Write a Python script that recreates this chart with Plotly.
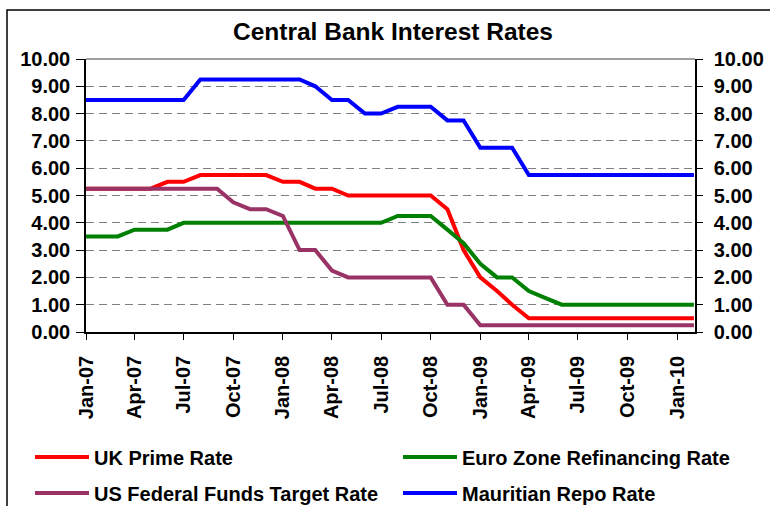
import plotly.graph_objects as go

months = [f"{y}-{m:02d}-01" for y in (2007, 2008, 2009) for m in range(1, 13)] + ["2010-01-01", "2010-02-01"]

uk_prime = [5.25, 5.25, 5.25, 5.25, 5.25, 5.5, 5.5, 5.75, 5.75, 5.75, 5.75, 5.75,
            5.5, 5.5, 5.25, 5.25, 5.0, 5.0, 5.0, 5.0, 5.0, 5.0, 4.5, 3.0,
            2.0, 1.5, 1.0, 0.5, 0.5, 0.5, 0.5, 0.5, 0.5, 0.5, 0.5, 0.5,
            0.5, 0.5]
euro_refi = [3.5, 3.5, 3.5, 3.75, 3.75, 3.75, 4.0, 4.0, 4.0, 4.0, 4.0, 4.0,
             4.0, 4.0, 4.0, 4.0, 4.0, 4.0, 4.0, 4.25, 4.25, 4.25, 3.75, 3.25,
             2.5, 2.0, 2.0, 1.5, 1.25, 1.0, 1.0, 1.0, 1.0, 1.0, 1.0, 1.0,
             1.0, 1.0]
us_fed = [5.25, 5.25, 5.25, 5.25, 5.25, 5.25, 5.25, 5.25, 5.25, 4.75, 4.5, 4.5,
          4.25, 3.0, 3.0, 2.25, 2.0, 2.0, 2.0, 2.0, 2.0, 2.0, 1.0, 1.0,
          0.25, 0.25, 0.25, 0.25, 0.25, 0.25, 0.25, 0.25, 0.25, 0.25, 0.25, 0.25,
          0.25, 0.25]
mauritius_repo = [8.5, 8.5, 8.5, 8.5, 8.5, 8.5, 8.5, 9.25, 9.25, 9.25, 9.25, 9.25,
                  9.25, 9.25, 9.0, 8.5, 8.5, 8.0, 8.0, 8.25, 8.25, 8.25, 7.75, 7.75,
                  6.75, 6.75, 6.75, 5.75, 5.75, 5.75, 5.75, 5.75, 5.75, 5.75, 5.75, 5.75,
                  5.75, 5.75]

tick_dates = ["2007-01-01", "2007-04-01", "2007-07-01", "2007-10-01",
              "2008-01-01", "2008-04-01", "2008-07-01", "2008-10-01",
              "2009-01-01", "2009-04-01", "2009-07-01", "2009-10-01", "2010-01-01"]
tick_labels = ["Jan-07", "Apr-07", "Jul-07", "Oct-07", "Jan-08", "Apr-08", "Jul-08",
               "Oct-08", "Jan-09", "Apr-09", "Jul-09", "Oct-09", "Jan-10"]
y_ticks = [0, 1, 2, 3, 4, 5, 6, 7, 8, 9, 10]

series = [
    ("UK Prime Rate", uk_prime, "#FF0000", "legend"),
    ("Euro Zone Refinancing Rate", euro_refi, "#008000", "legend2"),
    ("US Federal Funds Target Rate", us_fed, "#993366", "legend3"),
    ("Mauritian Repo Rate", mauritius_repo, "#0000FF", "legend4"),
]

FONT = "Liberation Sans, Arial, sans-serif"

fig = go.Figure()
for name, vals, color, lg in series:
    fig.add_trace(go.Scatter(x=months, y=vals, name=name, mode="lines",
                             line=dict(color=color, width=4), legend=lg))

# invisible trace for the right axis
fig.add_trace(go.Scatter(x=months[:1], y=[None], yaxis="y2", showlegend=False,
                         hoverinfo="skip"))

W, H = 770, 506
L, R, T, B = 86, 75, 59, 174
pw, ph = W - L - R, H - T - B

def px_x(x):
    return (x - L) / pw

def px_y(y):
    return (H - B - y) / ph

leg_font = dict(family=FONT, size=20, color="black", weight="bold")
legend_common = dict(font=leg_font, bgcolor="rgba(0,0,0,0)", itemwidth=54,
                     xanchor="left", yanchor="middle", orientation="h")

tickfont = dict(family=FONT, size=20, color="black", weight="bold")

fig.update_layout(
    width=W, height=H,
    margin=dict(l=L, r=R, t=T, b=B, autoexpand=False),
    paper_bgcolor="white", plot_bgcolor="white",
    title=dict(text="Central Bank Interest Rates", xref="container", yref="container",
               x=393 / W, y=1 - 31 / H, xanchor="center", yanchor="middle",
               font=dict(family=FONT, size=24.5, color="black", weight="bold")),
    xaxis=dict(type="date", range=["2007-01-01", "2010-02-03"],
               tickvals=tick_dates, ticktext=tick_labels, tickangle=-90,
               tickfont=tickfont, ticks="outside", ticklen=6, tickcolor="black",
               ticklabelstandoff=8,
               showline=True, linecolor="black", linewidth=1.5,
               showgrid=False, zeroline=False, automargin=False),
    yaxis=dict(range=[0, 10], tickvals=y_ticks, tickformat=".2f", tickfont=tickfont,
               ticks="outside", ticklen=8, tickcolor="black", ticklabelstandoff=2,
               showline=True, linecolor="black", linewidth=1.5,
               showgrid=True, gridcolor="#808080", gridwidth=1, griddash="8px,5px",
               zeroline=False, automargin=False),
    yaxis2=dict(range=[0, 10], tickvals=y_ticks, tickformat=".2f", tickfont=tickfont,
                overlaying="y", side="right",
                ticks="outside", ticklen=6, tickcolor="black", ticklabelstandoff=7,
                showline=True, linecolor="black", linewidth=1.5,
                showgrid=False, zeroline=False, automargin=False),
    legend=dict(x=px_x(30), y=px_y(457), **legend_common),
    legend2=dict(x=px_x(398), y=px_y(457), **legend_common),
    legend3=dict(x=px_x(30), y=px_y(493), **legend_common),
    legend4=dict(x=px_x(398), y=px_y(493), **legend_common),
    shapes=[
        dict(type="line", xref="paper", yref="paper", x0=0, x1=1, y0=1, y1=1,
             line=dict(color="#808080", width=1.5)),
        dict(type="rect", xref="paper", yref="paper", x0=px_x(7), x1=px_x(800),
             y0=px_y(540), y1=px_y(10), line=dict(color="black", width=1.5),
             fillcolor="rgba(0,0,0,0)", layer="below"),
    ],
    showlegend=True,
)

fig.write_html("out.html",
               config={"displayModeBar": False},
               post_script="document.body.style.margin='0';document.body.style.overflow='hidden';")
